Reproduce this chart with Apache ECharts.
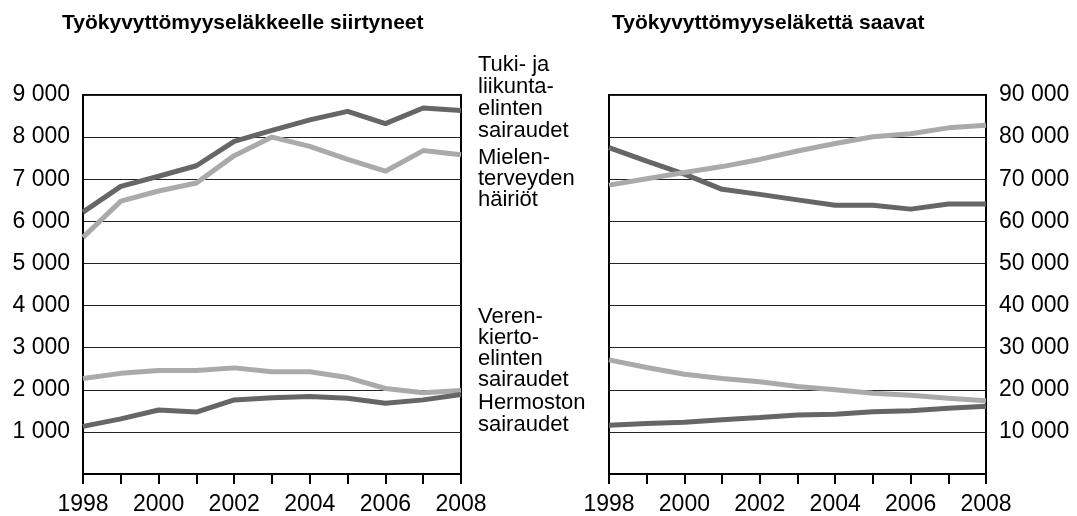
<!DOCTYPE html>
<html>
<head>
  <meta charset="utf-8">
  <script src="https://cdn.jsdelivr.net/npm/echarts@6/dist/echarts.min.js"></script>
  <style>
    body { margin: 0; background: #fff; }
  </style>
</head>
<body>
<div id="main" style="width:1077px;height:516px;"></div>
<script type="text/javascript">
// vuodet
var years = ['1998', '1999', '2000', '2001', '2002', '2003', '2004', '2005', '2006', '2007', '2008'];

// Työkyvyttömyyseläkkeelle siirtyneet
var newTuki = [6220, 6830, 7070, 7320, 7900, 8160, 8410, 8610, 8320, 8690, 8630];
var newMielen = [5620, 6480, 6720, 6910, 7560, 8000, 7780, 7470, 7190, 7680, 7580];
var newVeren = [2270, 2390, 2460, 2460, 2520, 2430, 2430, 2290, 2030, 1930, 1980];
var newHermo = [1130, 1310, 1520, 1470, 1760, 1810, 1840, 1800, 1680, 1760, 1890];

// Työkyvyttömyyseläkettä saavat
var allTuki = [77500, 74300, 71200, 67600, 66400, 65100, 63800, 63800, 62900, 64100, 64100];
var allMielen = [68600, 70100, 71600, 73000, 74700, 76700, 78500, 80100, 80800, 82200, 82800];
var allVeren = [27100, 25300, 23700, 22700, 21900, 20800, 20000, 19200, 18700, 18000, 17400];
var allHermo = [11600, 12000, 12300, 12900, 13400, 14000, 14200, 14800, 15000, 15600, 16100];

var dark = '#666666';
var light = '#aaaaaa';
var font = 'Liberation Sans, Arial, sans-serif';

function fmt(v) {
  if (v === 0) return '';
  return String(v).replace(/\B(?=(\d{3})+(?!\d))/g, ' ');
}

function xAx(gi) {
  return {
    type: 'category',
    gridIndex: gi,
    data: years,
    boundaryGap: false,
    axisLine: { lineStyle: { color: '#000', width: 2 } },
    axisTick: { interval: 0, length: 10, lineStyle: { color: '#000', width: 2 } },
    axisLabel: { interval: 1, margin: 19, color: '#000', fontSize: 23, fontFamily: font },
    splitLine: { show: false }
  };
}

function yAx(gi, max, pos) {
  return {
    type: 'value',
    gridIndex: gi,
    position: pos,
    min: 0,
    max: max,
    interval: max / 9,
    axisLine: { show: true, lineStyle: { color: '#000', width: 2 } },
    axisTick: { show: false },
    axisLabel: { margin: 13, color: '#000', fontSize: 23, fontFamily: font, formatter: fmt },
    splitLine: { lineStyle: { color: '#222', width: 1 } }
  };
}

function line(name, gi, data, color) {
  return {
    name: name,
    type: 'line',
    xAxisIndex: gi,
    yAxisIndex: gi,
    data: data,
    symbol: 'none',
    lineStyle: { color: color, width: 5 },
    z: 3
  };
}

var chart = echarts.init(document.getElementById('main'));
chart.setOption({
  animation: false,
  backgroundColor: '#fff',
  grid: [
    { left: 83, top: 95, width: 378, height: 380, show: true, borderColor: '#000', borderWidth: 2 },
    { left: 609, top: 95, width: 377, height: 380, show: true, borderColor: '#000', borderWidth: 2 }
  ],
  xAxis: [xAx(0), xAx(1)],
  yAxis: [yAx(0, 9000, 'left'), yAx(1, 90000, 'right')],
  series: [
    line('Tuki- ja liikuntaelinten sairaudet', 0, newTuki, dark),
    line('Mielenterveyden häiriöt', 0, newMielen, light),
    line('Verenkiertoelinten sairaudet', 0, newVeren, light),
    line('Hermoston sairaudet', 0, newHermo, dark),
    line('Tuki- ja liikuntaelinten sairaudet', 1, allTuki, dark),
    line('Mielenterveyden häiriöt', 1, allMielen, light),
    line('Verenkiertoelinten sairaudet', 1, allVeren, light),
    line('Hermoston sairaudet', 1, allHermo, dark)
  ],
  graphic: [
    { type: 'text', left: 62, top: 13, style: { text: 'Työkyvyttömyyseläkkeelle siirtyneet', font: 'bold 21px ' + font, fill: '#000' } },
    { type: 'text', left: 612, top: 13, style: { text: 'Työkyvyttömyyseläkettä saavat', font: 'bold 21px ' + font, fill: '#000' } },
    { type: 'text', left: 478, top: 54, style: { text: 'Tuki- ja\nliikunta-\nelinten\nsairaudet', font: '22px ' + font, lineHeight: 22, fill: '#000' } },
    { type: 'text', left: 478, top: 147, style: { text: 'Mielen-\nterveyden\nhäiriöt', font: '22px ' + font, lineHeight: 21, fill: '#000' } },
    { type: 'text', left: 478, top: 306, style: { text: 'Veren-\nkierto-\nelinten\nsairaudet', font: '22px ' + font, lineHeight: 21, fill: '#000' } },
    { type: 'text', left: 478, top: 392, style: { text: 'Hermoston\nsairaudet', font: '22px ' + font, lineHeight: 22, fill: '#000' } }
  ]
});
</script>
</body>
</html>
